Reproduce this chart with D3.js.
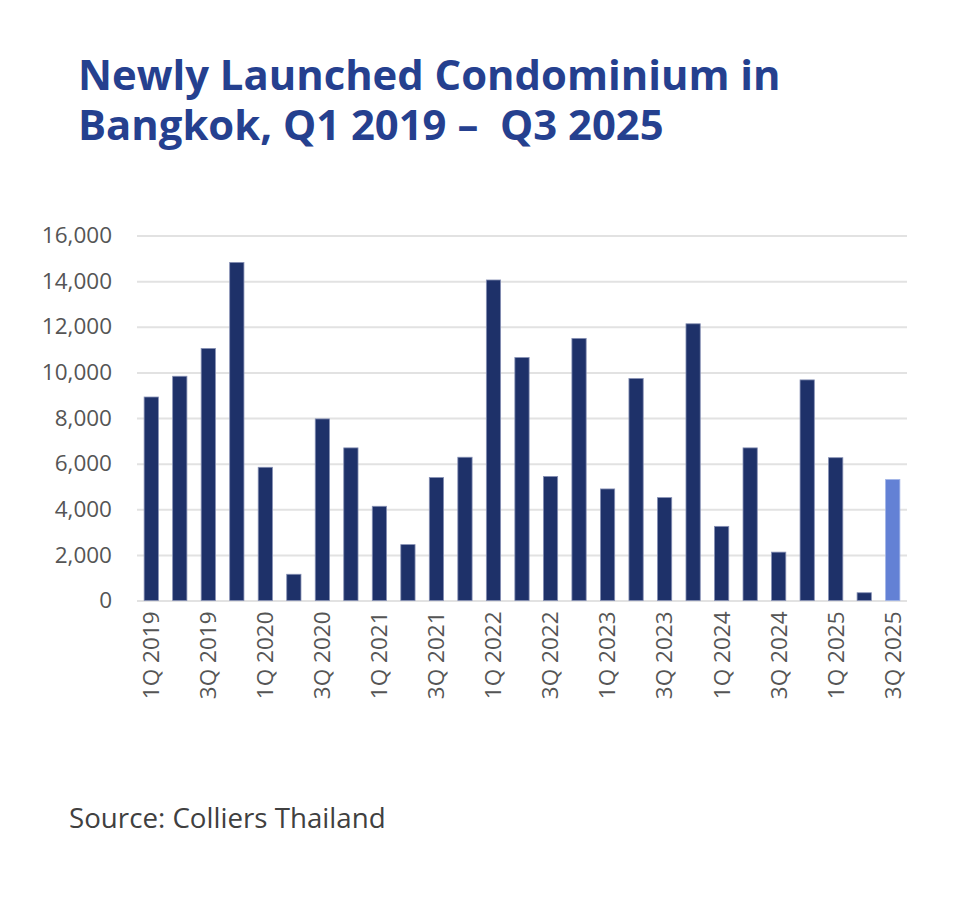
<!DOCTYPE html>
<html>
<head>
<meta charset="utf-8">
<script src="https://cdn.jsdelivr.net/npm/d3@7"></script>
<style>
  body { margin: 0; background: #fff; }
  svg, svg text { font-family: "Open Sans", sans-serif; }
</style>
</head>
<body>
<div id="chart"></div>
<script>
// data
const quarters = ['1Q 2019','2Q 2019','3Q 2019','4Q 2019',
  '1Q 2020','2Q 2020','3Q 2020','4Q 2020',
  '1Q 2021','2Q 2021','3Q 2021','4Q 2021',
  '1Q 2022','2Q 2022','3Q 2022','4Q 2022',
  '1Q 2023','2Q 2023','3Q 2023','4Q 2023',
  '1Q 2024','2Q 2024','3Q 2024','4Q 2024',
  '1Q 2025','2Q 2025','3Q 2025'];
const units = [8920, 9830, 11050, 14820,
  5840, 1150, 7960, 6690,
  4130, 2450, 5390, 6280,
  14050, 10650, 5440, 11490,
  4890, 9730, 4510, 12130,
  3250, 6690, 2120, 9670,
  6260, 340, 5300];
const tickLabels = quarters.filter((d, i) => i % 2 === 0);
const yTicks = [0, 2000, 4000, 6000, 8000, 10000, 12000, 14000, 16000];
const titleLines = ['Newly Launched Condominium in', 'Bangkok, Q1 2019 \u2013  Q3 2025'];

const width = 980, height = 900;
const margin = {top: 235.5, right: 73, bottom: 299.5, left: 137};
const w = width - margin.left - margin.right;
const h = height - margin.top - margin.bottom;

let svg = d3.select('#chart')
  .append('svg')
  .attr('width', width)
  .attr('height', height);

// title as one text block, two lines
svg.append('text')
  .attr('x', 78)
  .attr('y', 90)
  .attr('fill', '#25408f')
  .style('font-size', '41.8px')
  .style('font-weight', 700)
  .style('white-space', 'pre')
  .selectAll('tspan')
  .data(titleLines)
  .enter()
  .append('tspan')
  .attr('x', 78)
  .attr('dy', (d, i) => i === 0 ? 0 : 50)
  .text(d => d);

let g = svg.append('g')
  .attr('transform', `translate(${margin.left}, ${margin.top})`);

let x = d3.scaleBand()
  .domain(quarters)
  .range([0, w])
  .paddingInner(0.5)
  .paddingOuter(0.25);

let y = d3.scaleLinear()
  .domain([0, 16000])
  .range([h, 0]);

// gridlines + y labels
let yAxis = g.append('g')
  .call(d3.axisLeft(y).tickValues(yTicks).tickSize(-w).tickPadding(25)
    .tickFormat(d3.format(',')));
yAxis.attr('font-family', null).attr('font-size', null);
yAxis.select('.domain').remove();
yAxis.selectAll('line').attr('stroke', '#e2e2e2').attr('stroke-width', 2);
yAxis.selectAll('text')
  .attr('fill', '#555')
  .style('font-size', '22.5px');

g.selectAll('rect.bar')
  .data(units)
  .enter()
  .append('rect')
  .attr('class', 'bar')
  .attr('x', (d, i) => x(quarters[i]))
  .attr('y', d => y(d))
  .attr('width', x.bandwidth())
  .attr('height', d => h - y(d))
  .attr('fill', (d, i) => i === units.length - 1 ? '#6381d5' : '#1e3169')
  .attr('stroke', (d, i) => i === units.length - 1 ? '#9fb2e6' : '#8690b4')
  .attr('stroke-width', 0.8);

// x labels
let xAxis = g.append('g')
  .attr('transform', `translate(0, ${h})`)
  .call(d3.axisBottom(x).tickValues(tickLabels).tickSize(0));
xAxis.attr('font-family', null).attr('font-size', null);
xAxis.select('.domain').remove();
xAxis.selectAll('text')
  .attr('transform', 'rotate(-90)')
  .attr('x', -11)
  .attr('y', 0)
  .attr('dy', '0.35em')
  .style('text-anchor', 'end')
  .attr('fill', '#555')
  .style('font-size', '22.5px');

svg.append('text')
  .attr('x', 69)
  .attr('y', 828)
  .attr('fill', '#404040')
  .style('font-size', '27.7px')
  .text('Source: Colliers Thailand');
</script>
</body>
</html>
